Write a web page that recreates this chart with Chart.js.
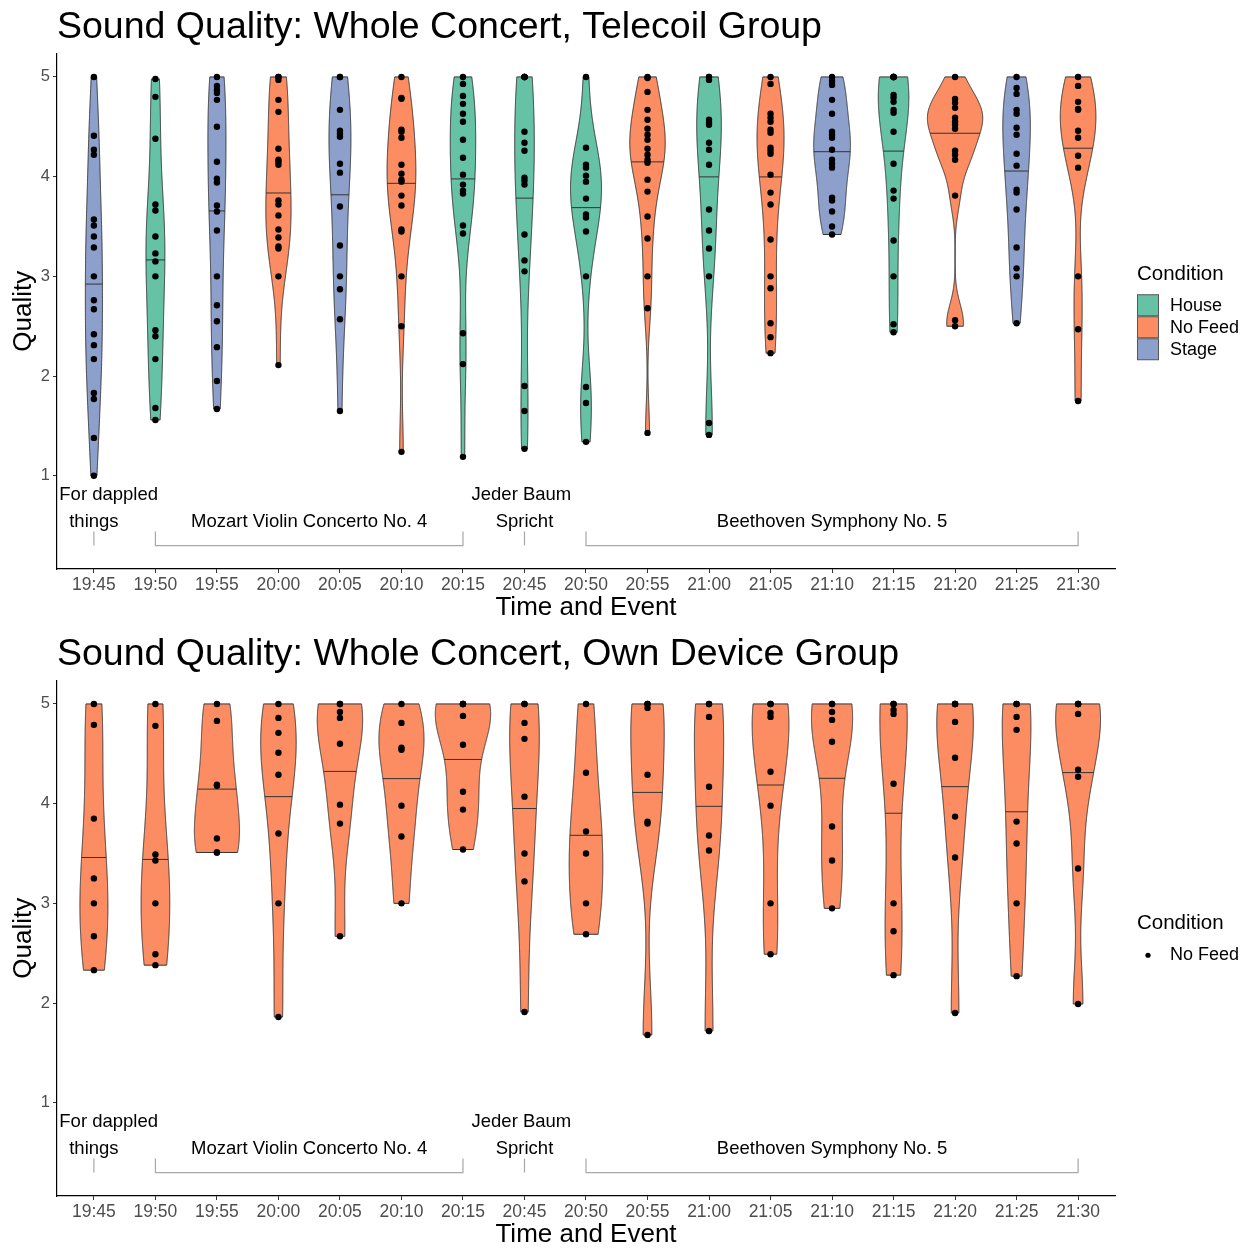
<!DOCTYPE html>
<html>
<head>
<meta charset="utf-8">
<script src="https://cdn.jsdelivr.net/npm/chart.js@4.4.1/dist/chart.umd.min.js"></script>
<style>
  html, body { margin: 0; padding: 0; background: #ffffff; overflow: hidden; }
  #wrap { position: relative; width: 1251px; height: 1250px; }
  .panel { position: absolute; left: 0; width: 1251px; height: 627px; }
</style>
</head>
<body>
<div id="wrap">
  <div class="panel" style="top:0px"><canvas id="telecoil" width="1251" height="627"></canvas></div>
  <div class="panel" style="top:627px"><canvas id="owndevice" width="1251" height="627"></canvas></div>
</div>
<script>
// ---- data ---------------------------------------------------------------
const times = ['19:45', '19:50', '19:55', '20:00', '20:05', '20:10', '20:15', '20:45',
               '20:50', '20:55', '21:00', '21:05', '21:10', '21:15', '21:20', '21:25', '21:30'];
const qualityTicks = [1, 2, 3, 4, 5];

const conditionNames = ['House', 'No Feed', 'Stage'];
const conditionColours = ['#66C2A5', '#FC8D62', '#8DA0CB'];

// Telecoil group: condition and individual ratings per time slot
const telecoilCondition = ['Stage', 'House', 'Stage', 'No Feed', 'Stage', 'No Feed', 'House', 'House',
                           'House', 'No Feed', 'House', 'No Feed', 'Stage', 'House', 'No Feed', 'Stage', 'No Feed'];
const telecoilRatings = [
  [5.0, 4.41, 4.27, 4.22, 3.57, 3.51, 3.40, 3.29, 3.00, 2.76, 2.67, 2.42, 2.31, 2.17, 1.83, 1.77, 1.38, 1.00],
  [4.98, 4.80, 4.38, 3.72, 3.66, 3.40, 3.23, 3.15, 3.00, 2.46, 2.40, 2.17, 1.68, 1.56],
  [5.0, 4.91, 4.87, 4.84, 4.77, 4.50, 4.15, 3.98, 3.94, 3.71, 3.65, 3.46, 3.00, 2.71, 2.55, 2.29, 1.95, 1.67],
  [5.0, 5.0, 4.97, 4.77, 4.65, 4.28, 4.17, 4.15, 4.12, 3.76, 3.72, 3.61, 3.47, 3.39, 3.30, 3.28, 3.00, 2.11],
  [5.0, 5.0, 4.67, 4.46, 4.43, 4.40, 4.13, 4.04, 3.70, 3.31, 3.00, 2.87, 2.57, 1.65],
  [5.0, 4.79, 4.78, 4.47, 4.45, 4.39, 4.12, 4.03, 3.97, 3.95, 3.81, 3.71, 3.47, 3.45, 3.00, 2.50, 1.24],
  [5.0, 4.93, 4.81, 4.73, 4.63, 4.55, 4.37, 4.19, 4.02, 3.92, 3.86, 3.83, 3.51, 3.43, 2.43, 2.12, 1.19],
  [5.0, 5.0, 5.0, 5.0, 4.45, 4.34, 4.26, 3.99, 3.96, 3.92, 3.42, 3.16, 3.05, 1.90, 1.65, 1.27],
  [5.0, 4.29, 4.12, 4.09, 4.01, 3.95, 3.78, 3.62, 3.59, 3.45, 3.00, 1.89, 1.73, 1.34],
  [5.0, 4.99, 4.85, 4.67, 4.57, 4.48, 4.42, 4.37, 4.28, 4.22, 4.17, 4.14, 3.97, 3.85, 3.60, 3.38, 3.00, 2.68, 1.43],
  [5.0, 5.0, 4.97, 4.57, 4.54, 4.52, 4.34, 4.27, 4.12, 3.67, 3.46, 3.28, 3.00, 1.53, 1.41],
  [5.0, 4.93, 4.63, 4.59, 4.55, 4.47, 4.44, 4.29, 4.26, 4.23, 4.02, 3.84, 3.72, 3.37, 3.00, 2.88, 2.53, 2.39, 2.23],
  [5.0, 4.96, 4.92, 4.77, 4.63, 4.45, 4.42, 4.39, 4.27, 4.17, 4.13, 4.09, 3.79, 3.76, 3.65, 3.50, 3.42],
  [5.0, 5.0, 5.0, 5.0, 5.0, 4.82, 4.79, 4.75, 4.67, 4.64, 4.45, 4.13, 3.86, 3.78, 3.36, 3.00, 2.52, 2.44],
  [5.0, 4.78, 4.74, 4.69, 4.59, 4.55, 4.52, 4.48, 4.26, 4.22, 4.17, 3.81, 2.56, 2.50],
  [5.0, 4.89, 4.83, 4.67, 4.63, 4.49, 4.42, 4.23, 4.11, 3.87, 3.84, 3.67, 3.29, 3.08, 3.00, 2.53],
  [5.0, 4.91, 4.75, 4.68, 4.67, 4.46, 4.39, 4.21, 4.09, 3.00, 2.47, 1.75]
];

// Own device group: every slot is "No Feed"
const ownDeviceCondition = ['No Feed', 'No Feed', 'No Feed', 'No Feed', 'No Feed', 'No Feed', 'No Feed', 'No Feed',
                            'No Feed', 'No Feed', 'No Feed', 'No Feed', 'No Feed', 'No Feed', 'No Feed', 'No Feed', 'No Feed'];
const ownDeviceRatings = [
  [5.0, 4.79, 3.85, 3.25, 3.00, 2.67, 2.33],
  [5.0, 4.78, 3.49, 3.43, 3.00, 2.49, 2.38],
  [5.0, 4.83, 4.19, 4.18, 3.65, 3.51, 3.51],
  [5.0, 4.86, 4.71, 4.51, 4.29, 3.70, 3.00, 1.86],
  [5.0, 5.0, 4.92, 4.86, 4.60, 3.99, 3.80, 2.67],
  [5.0, 4.81, 4.56, 4.54, 3.98, 3.67, 3.00],
  [5.0, 5.0, 5.0, 4.88, 4.59, 4.12, 3.94, 3.54],
  [5.0, 5.0, 4.81, 4.65, 4.07, 3.50, 3.22, 1.91],
  [5.0, 4.31, 3.72, 3.50, 3.00, 2.69],
  [5.0, 5.0, 4.96, 4.29, 3.82, 3.80, 1.68],
  [5.0, 5.0, 4.87, 4.17, 3.68, 3.53, 1.72],
  [5.0, 5.0, 4.91, 4.87, 4.32, 3.98, 3.00, 2.49],
  [5.0, 5.0, 4.92, 4.84, 4.62, 3.77, 3.43, 2.95],
  [5.0, 5.0, 4.94, 4.90, 4.20, 3.00, 2.72, 2.28],
  [5.0, 5.0, 5.0, 4.82, 4.46, 3.87, 3.46, 1.90],
  [5.0, 5.0, 4.87, 4.74, 3.82, 3.60, 3.00, 2.27],
  [5.0, 5.0, 5.0, 4.90, 4.34, 4.27, 3.35, 1.99]
];

// Programme pieces written under the violins (x in slot units, y in quality units)
const eventLabels = ['For dappled', 'things', 'Mozart Violin Concerto No. 4', 'Jeder Baum', 'Spricht', 'Beethoven Symphony No. 5'];
const eventLabelX = [0.24, 0, 3.5, 6.95, 7, 12];
const eventLabelY = [0.81, 0.54, 0.54, 0.81, 0.54, 0.54];
const eventSpanStart = [0, 1, 7, 8];
const eventSpanEnd = [0, 6, 7, 16];
const bracketLow = 0.30;
const bracketHigh = 0.44;

// ---- helpers --------------------------------------------------------------
const FONT = '"Liberation Sans", Arial, Helvetica, sans-serif';

function colourFor(name) {
  return conditionColours[conditionNames.indexOf(name)];
}

function quantile7(sorted, p) {
  const h = (sorted.length - 1) * p;
  const lo = Math.floor(h);
  const hi = Math.min(lo + 1, sorted.length - 1);
  return sorted[lo] + (h - lo) * (sorted[hi] - sorted[lo]);
}

// Silverman's rule of thumb (as in R's bw.nrd0)
function bandwidth(v) {
  const n = v.length;
  const mean = v.reduce((a, b) => a + b, 0) / n;
  const sd = Math.sqrt(v.reduce((a, b) => a + (b - mean) * (b - mean), 0) / (n - 1));
  const s = [...v].sort((a, b) => a - b);
  const iqr = quantile7(s, 0.75) - quantile7(s, 0.25);
  let lo = Math.min(sd, iqr / 1.34);
  if (!(lo > 0)) lo = sd || Math.abs(s[0]) || 1;
  return 0.9 * lo * Math.pow(n, -0.2);
}

// Gaussian kernel density over the observed range, plus its median
function violinProfile(v) {
  const bw = bandwidth(v);
  const lo = Math.min(...v), hi = Math.max(...v);
  const N = 512;
  const ys = [], ds = [];
  const norm = 1 / (v.length * bw * Math.sqrt(2 * Math.PI));
  for (let k = 0; k < N; k++) {
    const y = lo + (hi - lo) * k / (N - 1);
    let s = 0;
    for (const xi of v) { const z = (y - xi) / bw; s += Math.exp(-0.5 * z * z); }
    ys.push(y); ds.push(s * norm);
  }
  const total = ds.reduce((a, b) => a + b, 0);
  let cum = 0, prev = 0, median = ys[0], medIdx = 0;
  for (let k = 0; k < N; k++) {
    cum += ds[k] / total;
    if (cum >= 0.5) {
      const f = k === 0 ? 0 : (0.5 - prev) / (cum - prev);
      median = k === 0 ? ys[0] : ys[k - 1] + f * (ys[k] - ys[k - 1]);
      medIdx = k;
      break;
    }
    prev = cum;
  }
  const dMed = medIdx === 0 ? ds[0] : ds[medIdx - 1] + (median - ys[medIdx - 1]) / (ys[medIdx] - ys[medIdx - 1] || 1) * (ds[medIdx] - ds[medIdx - 1]);
  return { ys, ds, median, dMed };
}

function violinPlugin(ratings, conditions, widthScale) {
  const profiles = ratings.map(violinProfile);
  const maxD = Math.max(...profiles.map(p => Math.max(...p.ds)));
  return {
    id: 'violins',
    beforeDatasetsDraw(chart) {
      const { ctx, scales: { x, y } } = chart;
      ctx.save();
      ctx.lineWidth = 1;
      ctx.strokeStyle = '#333333';
      ctx.lineJoin = 'round';
      profiles.forEach((p, i) => {
        const half = d => 0.45 * widthScale * d / maxD;
        ctx.beginPath();
        for (let k = 0; k < p.ys.length; k++) {
          const px = x.getPixelForValue(i + half(p.ds[k]));
          const py = y.getPixelForValue(p.ys[k]);
          if (k === 0) ctx.moveTo(px, py); else ctx.lineTo(px, py);
        }
        for (let k = p.ys.length - 1; k >= 0; k--) {
          ctx.lineTo(x.getPixelForValue(i - half(p.ds[k])), y.getPixelForValue(p.ys[k]));
        }
        ctx.closePath();
        ctx.fillStyle = colourFor(conditions[i]);
        ctx.fill();
        ctx.stroke();
        // median of the density
        const hm = half(p.dMed);
        const my = y.getPixelForValue(p.median);
        ctx.beginPath();
        ctx.moveTo(x.getPixelForValue(i - hm), my);
        ctx.lineTo(x.getPixelForValue(i + hm), my);
        ctx.stroke();
      });
      ctx.restore();
    }
  };
}

const eventPlugin = {
  id: 'events',
  afterDatasetsDraw(chart) {
    const { ctx, scales: { x, y } } = chart;
    ctx.save();
    ctx.fillStyle = '#000000';
    ctx.font = '18.5px ' + FONT;
    ctx.textAlign = 'center';
    ctx.textBaseline = 'middle';
    eventLabels.forEach((t, i) => {
      ctx.fillText(t, x.getPixelForValue(eventLabelX[i]), y.getPixelForValue(eventLabelY[i]));
    });
    ctx.strokeStyle = '#a8a8a8';
    ctx.lineWidth = 1.2;
    const yl = y.getPixelForValue(bracketLow), yh = y.getPixelForValue(bracketHigh);
    eventSpanStart.forEach((s, i) => {
      const x0 = x.getPixelForValue(s), x1 = x.getPixelForValue(eventSpanEnd[i]);
      ctx.beginPath();
      ctx.moveTo(x0, yh); ctx.lineTo(x0, yl); ctx.lineTo(x1, yl); ctx.lineTo(x1, yh);
      ctx.stroke();
    });
    ctx.restore();
  }
};

function legendPlugin(kind, names) {
  return {
    id: 'conditionLegend',
    afterDraw(chart) {
      const { ctx, chartArea } = chart;
      const left = chartArea.right + 22;
      const mid = (chartArea.top + chartArea.bottom) / 2;
      ctx.save();
      ctx.fillStyle = '#000000';
      ctx.textAlign = 'left';
      ctx.textBaseline = 'middle';
      if (kind === 'keys') {
        ctx.font = '20.5px ' + FONT;
        ctx.fillText('Condition', left, mid - 37);
        ctx.font = '18px ' + FONT;
        names.forEach((n, i) => {
          const cy = mid - 6 + i * 22;
          ctx.fillStyle = colourFor(n);
          ctx.fillRect(left + 0.5, cy - 10.5, 21, 21);
          ctx.strokeStyle = '#555555';
          ctx.lineWidth = 1;
          ctx.strokeRect(left + 0.5, cy - 10.5, 21, 21);
          ctx.fillStyle = '#000000';
          ctx.fillText(n, left + 33, cy + 1);
        });
      } else {
        ctx.font = '20.5px ' + FONT;
        ctx.fillText('Condition', left, mid - 15);
        ctx.font = '18px ' + FONT;
        names.forEach((n, i) => {
          const cy = mid + 17 + i * 22;
          ctx.beginPath();
          ctx.arc(left + 11, cy, 2.6, 0, Math.PI * 2);
          ctx.fill();
          ctx.fillText(n, left + 33, cy);
        });
      }
      ctx.restore();
    }
  };
}

function buildChart(canvasId, titleText, ratings, conditions, legendKind, legendNames, widthScale) {
  const points = [];
  ratings.forEach((vals, i) => vals.forEach(v => points.push({ x: i, y: v })));
  return new Chart(document.getElementById(canvasId), {
    type: 'scatter',
    data: {
      datasets: [{
        data: points,
        pointRadius: 3.2,
        pointHoverRadius: 3.2,
        backgroundColor: '#000000',
        borderWidth: 0
      }]
    },
    options: {
      responsive: false,
      animation: false,
      devicePixelRatio: 1,
      events: [],
      layout: { padding: { left: 0, right: 136, top: 0, bottom: 0 } },
      plugins: {
        legend: { display: false },
        tooltip: { enabled: false },
        title: {
          display: true,
          text: titleText,
          align: 'start',
          fullSize: false,
          color: '#000000',
          font: { family: FONT, size: 37.5, weight: 'normal', lineHeight: 1.2 },
          padding: { top: 5.5, bottom: 3 }
        }
      },
      scales: {
        x: {
          type: 'linear',
          min: -0.6,
          max: times.length - 0.4,
          afterBuildTicks: s => { s.ticks = times.map((t, i) => ({ value: i })); },
          afterFit: s => { s.height = 58; },
          ticks: {
            autoSkip: false,
            maxRotation: 0,
            minRotation: 0,
            color: '#4D4D4D',
            padding: 2,
            font: { family: FONT, size: 17.5 },
            callback: v => times[v]
          },
          grid: { display: true, drawOnChartArea: false, drawTicks: true, tickLength: 4, color: '#333333' },
          border: { display: true, color: '#000000', width: 1.2 },
          title: {
            display: true,
            text: 'Time and Event',
            color: '#000000',
            font: { family: FONT, size: 26, lineHeight: 1.2 },
            padding: { top: 0, bottom: 3.5 }
          }
        },
        y: {
          type: 'linear',
          min: 0.065,
          max: 5.235,
          afterBuildTicks: s => { s.ticks = qualityTicks.map(v => ({ value: v })); },
          afterFit: s => { s.width = 57; },
          ticks: {
            color: '#4D4D4D',
            padding: 3,
            font: { family: FONT, size: 16.5 },
            callback: v => String(v)
          },
          grid: { display: true, drawOnChartArea: false, drawTicks: true, tickLength: 4, color: '#333333' },
          border: { display: true, color: '#000000', width: 1.2 },
          title: {
            display: true,
            text: 'Quality',
            color: '#000000',
            font: { family: FONT, size: 26, lineHeight: 1.2 },
            padding: { top: 8, bottom: 0 }
          }
        }
      }
    },
    plugins: [violinPlugin(ratings, conditions, widthScale), eventPlugin, legendPlugin(legendKind, legendNames)]
  });
}

buildChart('telecoil', 'Sound Quality: Whole Concert, Telecoil Group',
           telecoilRatings, telecoilCondition, 'keys', conditionNames, 1);
buildChart('owndevice', 'Sound Quality: Whole Concert, Own Device Group',
           ownDeviceRatings, ownDeviceCondition, 'dots', ['No Feed'], 1);
</script>
</body>
</html>
